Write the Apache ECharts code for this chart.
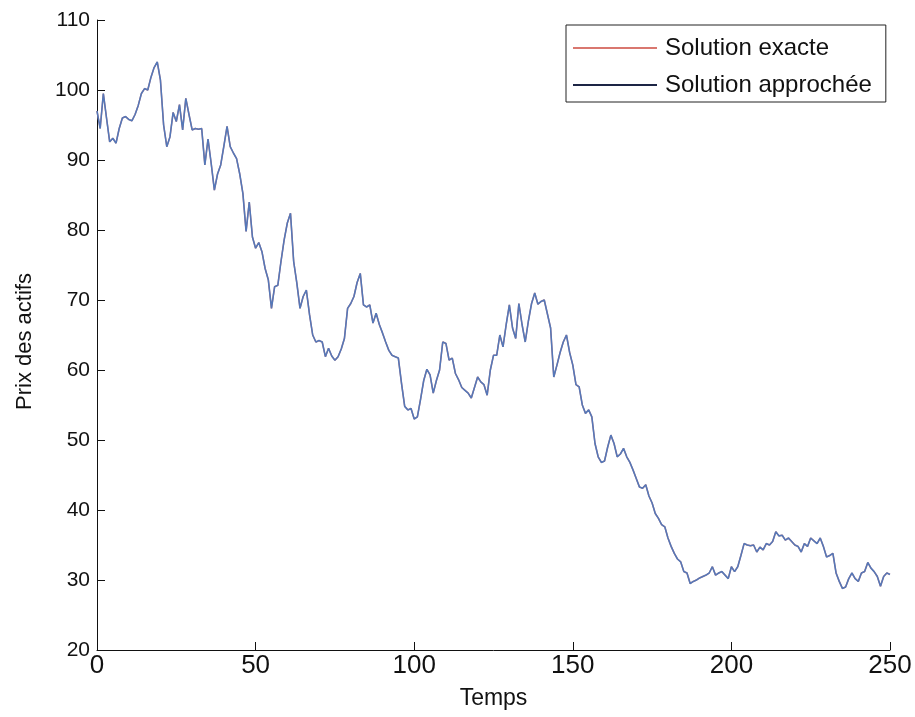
<!DOCTYPE html>
<html>
<head>
<meta charset="utf-8">
<script src="https://cdn.jsdelivr.net/npm/echarts@6/dist/echarts.min.js"></script>
<style>
    html, body { margin: 0; padding: 0; background: #fff; }
    #chart { width: 915px; height: 717px; }
</style>
</head>
<body>
<div id="chart"></div>
<script>
// prix, un point par pas de temps (t = 0..250)
const prixExact = [
    97.0, 94.5, 99.5, 96.0, 92.6, 93.1, 92.4, 94.5, 96.0, 96.2,
    95.8, 95.6, 96.5, 97.8, 99.5, 100.2, 100.0, 101.8, 103.2, 104.0,
    101.4, 95.0, 91.9, 93.3, 96.8, 95.5, 97.9, 94.3, 98.8, 96.5,
    94.3, 94.5, 94.4, 94.5, 89.3, 93.0, 89.5, 85.7, 88.0, 89.3,
    92.0, 94.8, 91.9, 91.0, 90.2, 88.0, 85.2, 79.8, 84.0, 79.0,
    77.4, 78.2, 76.9, 74.5, 72.9, 68.8, 71.9, 72.1, 75.5, 78.6,
    81.0, 82.4, 75.5, 72.4, 68.8, 70.5, 71.4, 67.9, 65.0, 64.0,
    64.2, 64.0, 61.9, 63.1, 62.0, 61.4, 61.9, 63.0, 64.5, 68.8,
    69.5, 70.5, 72.5, 73.8, 69.3, 69.0, 69.3, 66.7, 68.1, 66.5,
    65.3, 64.0, 62.8, 62.1, 61.9, 61.7, 58.1, 54.8, 54.3, 54.5,
    53.0, 53.3, 55.8, 58.5, 60.1, 59.3, 56.7, 58.5, 60.0, 64.0,
    63.8, 61.4, 61.7, 59.5, 58.6, 57.5, 57.1, 56.7, 56.0, 57.5,
    59.0, 58.3, 57.9, 56.4, 60.0, 62.1, 62.1, 65.0, 63.3, 66.5,
    69.3, 66.0, 64.5, 69.5, 66.5, 64.0, 67.0, 69.5, 71.0, 69.4,
    69.8, 70.0, 68.0, 66.0, 59.0, 60.7, 62.5, 64.0, 65.0, 62.5,
    60.7, 57.9, 57.6, 55.0, 53.8, 54.3, 53.3, 49.5, 47.6, 46.8,
    47.0, 49.0, 50.7, 49.5, 47.6, 48.0, 48.8, 47.6, 46.8, 45.7,
    44.5, 43.3, 43.1, 43.6, 42.0, 41.0, 39.5, 38.8, 37.9, 37.6,
    36.0, 34.8, 33.8, 33.0, 32.6, 31.2, 31.0, 29.5, 29.8, 30.0,
    30.3, 30.5, 30.7, 31.0, 31.9, 30.7, 31.0, 31.2, 30.7, 30.2,
    31.9, 31.2, 31.9, 33.5, 35.2, 35.0, 34.9, 35.0, 34.0, 34.7,
    34.3, 35.2, 35.0, 35.5, 36.9, 36.3, 36.4, 35.7, 36.0, 35.5,
    35.0, 34.8, 34.0, 35.2, 34.8, 36.0, 35.6, 35.2, 36.0, 34.8,
    33.3, 33.5, 33.8, 31.0, 29.8, 28.8, 29.0, 30.2, 31.0, 30.2,
    29.8, 31.0, 31.2, 32.5, 31.7, 31.2, 30.5, 29.1, 30.5, 31.0,
    30.8
];
// l'approximation se superpose exactement à la solution exacte sur la figure
const prixApproche = prixExact;

const xTicks = [0, 50, 100, 150, 200, 250];
const yTicks = [20, 30, 40, 50, 60, 70, 80, 90, 100, 110];

const font = "'Liberation Sans', Arial, sans-serif";

const toPairs = (arr) => arr.map((v, i) => [i, v]);

const chart = echarts.init(document.getElementById('chart'));

const option = {
    animation: false,
    backgroundColor: '#fff',
    grid: { left: 97, right: 25, top: 20, bottom: 67 },
    legend: {
        orient: 'vertical',
        left: 566,
        top: 25,
        padding: [10, 14, 4, 7],
        itemGap: 11,
        itemWidth: 84,
        itemHeight: 2,
        icon: 'rect',
        borderColor: '#222',
        borderWidth: 1,
        textStyle: { fontFamily: font, fontSize: 24, lineHeight: 26, color: '#111', padding: [0, 0, 0, 3] },
        data: [
            { name: 'Solution exacte', itemStyle: { color: '#d9776f' } },
            { name: 'Solution approchée', itemStyle: { color: '#1d2545' } }
        ]
    },
    xAxis: {
        type: 'value',
        min: xTicks[0],
        max: xTicks[xTicks.length - 1],
        interval: 50,
        name: 'Temps',
        nameLocation: 'middle',
        nameGap: 37,
        nameTextStyle: { fontFamily: font, fontSize: 23, color: '#111' },
        axisLine: { lineStyle: { color: '#111', width: 1 } },
        axisTick: { inside: true, length: 8, lineStyle: { color: '#111' } },
        axisLabel: { fontFamily: font, fontSize: 26, color: '#111', margin: 3 },
        splitLine: { show: false }
    },
    yAxis: {
        type: 'value',
        min: yTicks[0],
        max: yTicks[yTicks.length - 1],
        interval: 10,
        name: 'Prix des actifs',
        nameLocation: 'middle',
        nameGap: 61,
        nameTextStyle: { fontFamily: font, fontSize: 22, color: '#111', padding: [0, 13, 0, 0] },
        axisLine: { show: true, lineStyle: { color: '#111', width: 1 } },
        axisTick: { show: true, inside: true, length: 8, lineStyle: { color: '#111' } },
        axisLabel: { fontFamily: font, fontSize: 21, color: '#111', margin: 7 },
        splitLine: { show: false }
    },
    series: [
        {
            name: 'Solution exacte',
            type: 'line',
            symbol: 'none',
            data: toPairs(prixExact),
            lineStyle: { color: '#d9776f', width: 1.4 },
            itemStyle: { color: '#d9776f' }
        },
        {
            name: 'Solution approchée',
            type: 'line',
            symbol: 'none',
            data: toPairs(prixApproche),
            lineStyle: { color: '#5578b8', width: 1.6 },
            itemStyle: { color: '#1d2545' }
        }
    ]
};

chart.setOption(option);
</script>
</body>
</html>
